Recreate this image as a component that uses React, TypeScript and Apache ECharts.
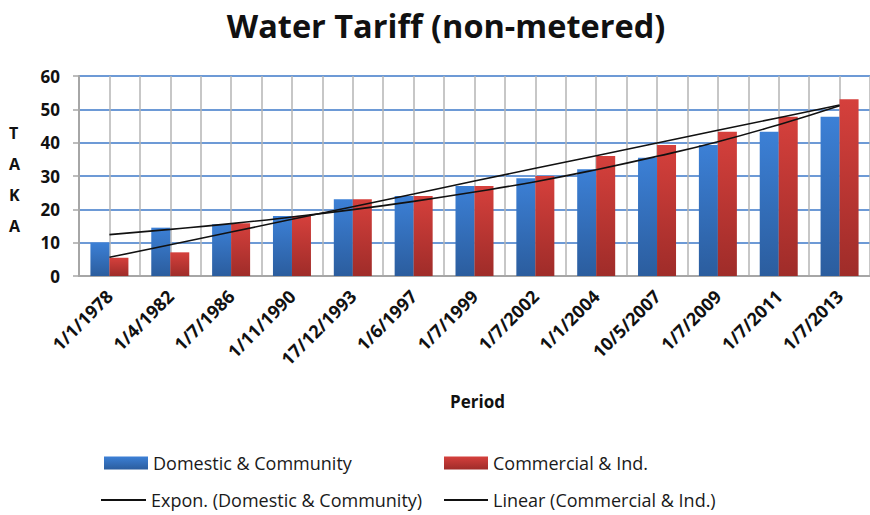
import React, { useEffect, useRef } from "react";
import * as echarts from "echarts";

const periods = [
  "1/1/1978", "1/4/1982", "1/7/1986", "1/11/1990", "17/12/1993", "1/6/1997", "1/7/1999",
  "1/7/2002", "1/1/2004", "10/5/2007", "1/7/2009", "1/7/2011", "1/7/2013",
];
const domestic = [10, 14.5, 15.5, 18, 23, 24, 27, 29.3, 32, 35.5, 39.3, 43.3, 47.8];
const commercial = [5.5, 7.1, 15.8, 18, 23, 24, 27, 30, 36, 39.3, 43.3, 47.8, 53];
// trend lines
const exponDomestic = [12.4, 14.0, 15.7, 17.7, 19.9, 22.4, 25.2, 28.3, 31.9, 35.9, 40.3, 45.4, 51.1];
const linearCommercial = [5.6, 9.4, 13.2, 17.0, 20.8, 24.6, 28.5, 32.3, 36.1, 39.9, 43.7, 47.5, 51.3];
const yTicks = [0, 10, 20, 30, 40, 50, 60];
const halfCells = Array.from({ length: periods.length * 2 }, (_, i) => String(i));

const FONT = "'Open Sans', Lato, sans-serif";

export default function App() {
  const ref = useRef<HTMLDivElement>(null);
  useEffect(() => {
    if (!ref.current) return;
    const chart = echarts.init(ref.current, null, { renderer: "svg" });
    const blueGrad = new echarts.graphic.LinearGradient(0, 0, 0, 1, [
      { offset: 0, color: "#3c80d6" },
      { offset: 1, color: "#2b5d9e" },
    ]);
    const redGrad = new echarts.graphic.LinearGradient(0, 0, 0, 1, [
      { offset: 0, color: "#d5403c" },
      { offset: 1, color: "#9f2c29" },
    ]);
    const legendText = { fontFamily: FONT, fontSize: 18, color: "#1a1a1a" };
    chart.setOption({
      animation: false,
      backgroundColor: "#ffffff",
      title: {
        text: "Water Tariff (non-metered)",
        left: 441,
        textAlign: "center",
        top: 4,
        textStyle: { fontFamily: FONT, fontSize: 32.5, fontWeight: "bold", color: "#111" },
      },
      grid: { left: 79, right: -10, top: 76, bottom: 239, containLabel: false },
      xAxis: [
        {
          type: "category",
          data: periods,
          axisLine: { lineStyle: { color: "#a6a6a6", width: 2 } },
          axisTick: { show: false },
          splitLine: { show: false },
          axisLabel: {
            rotate: 45,
            interval: 0,
            margin: 17,
            fontFamily: FONT,
            fontSize: 18,
            fontWeight: "bold",
            color: "#111",
          },
        },
        {
          type: "category",
          data: halfCells,
          position: "bottom",
          axisLine: { show: false },
          axisTick: { show: false },
          axisLabel: { show: false },
          splitLine: { show: true, interval: 0, lineStyle: { color: "#b4b4b4", width: 1.5 } },
        },
      ],
      yAxis: {
        type: "value",
        min: yTicks[0],
        max: yTicks[yTicks.length - 1],
        interval: 10,
        axisLine: { show: true, lineStyle: { color: "#a6a6a6", width: 2 } },
        axisTick: { show: true, length: 6, lineStyle: { color: "#a6a6a6", width: 1.5 } },
        axisLabel: {
          margin: 19,
          fontFamily: FONT,
          fontSize: 17,
          fontWeight: "bold",
          color: "#111",
        },
        splitLine: { show: true, lineStyle: { color: "#6d9ad6", width: 2 } },
      },
      legend: [
        {
          data: [{ name: "Domestic & Community", icon: "rect" }],
          left: 104, top: 454, padding: 0, itemWidth: 44, itemHeight: 13, itemGap: 0, textStyle: legendText,
        },
        {
          data: [{ name: "Commercial & Ind.", icon: "rect" }],
          left: 444, top: 454, padding: 0, itemWidth: 44, itemHeight: 13, itemGap: 0, textStyle: legendText,
        },
        {
          data: [{ name: "Expon. (Domestic & Community)", icon: "rect" }],
          left: 101, top: 491, padding: 0, itemWidth: 45, itemHeight: 2, textStyle: legendText,
        },
        {
          data: [{ name: "Linear (Commercial & Ind.)", icon: "rect" }],
          left: 444, top: 491, padding: 0, itemWidth: 44, itemHeight: 2, textStyle: legendText,
        },
      ],
      graphic: [
        {
          type: "text",
          left: 9,
          top: 117,
          style: {
            text: "T\nA\nK\nA",
            fontFamily: FONT,
            fontSize: 16,
            fontWeight: "bold",
            lineHeight: 31,
            fill: "#111",
            align: "center",
          },
        },
        {
          type: "text",
          left: 450,
          top: 393,
          style: { text: "Period", fontFamily: FONT, fontSize: 17, fontWeight: "bold", fill: "#111" },
        },
      ],
      series: [
        {
          name: "Domestic & Community",
          type: "bar",
          data: domestic,
          barWidth: 19,
          barGap: "0%",
          itemStyle: { color: blueGrad },
        },
        {
          name: "Commercial & Ind.",
          type: "bar",
          data: commercial,
          barWidth: 19,
          barGap: "0%",
          itemStyle: { color: redGrad },
        },
        {
          name: "Expon. (Domestic & Community)",
          type: "line",
          data: exponDomestic,
          smooth: true,
          symbol: "none",
          lineStyle: { color: "#111", width: 1.6 },
          itemStyle: { color: "#111" },
        },
        {
          name: "Linear (Commercial & Ind.)",
          type: "line",
          data: linearCommercial,
          symbol: "none",
          lineStyle: { color: "#111", width: 1.6 },
          itemStyle: { color: "#111" },
        },
      ],
    });
    return () => chart.dispose();
  }, []);
  return <div ref={ref} style={{ width: 870, height: 515, position: "absolute", left: 0, top: 0 }} />;
}
